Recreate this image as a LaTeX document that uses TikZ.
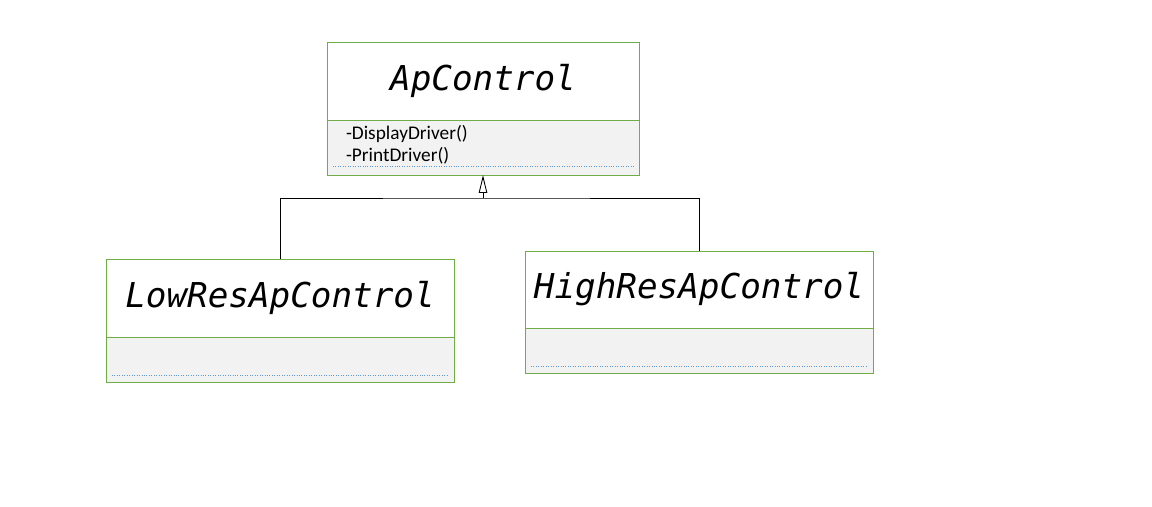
\documentclass[tikz,border=0pt]{standalone}
\usepackage{fontspec}
\setmainfont{Carlito}
\newfontfamily\classfont{DejaVu Sans Mono}
\usepackage{xcolor}
\usetikzlibrary{
  arrows.meta,
  positioning
}
\definecolor{umlgreen}{HTML}{70AD47}
\definecolor{umlgray} {HTML}{F2F2F2}
\definecolor{umlblue} {HTML}{5B9BD5}

\begin{document}
\begin{tikzpicture}[
  every node/.style={inner sep=0pt, outer sep=0pt},
  classname/.style={rectangle, draw=umlgreen, fill=white, line width=0.4pt,
              minimum width=6.96cm, minimum height=1.56cm, text centered,
              font=\classfont\itshape\fontsize{19.5}{22}\selectfont},
  attrs/.style={rectangle, draw=umlgreen, fill=umlgray, line width=0.4pt,
              minimum width=6.96cm, minimum height=0.9cm},
  sep/.style={umlblue, densely dotted, line width=0.4pt},
  arr/.style={-{Triangle[open, length=0.36cm, width=0.17cm]}, line width=0.5pt},
  link/.style={line width=0.5pt},
]
\useasboundingbox (0,0) rectangle (23.04,-10.14);

% parent class
\node[classname, minimum width=6.24cm](apc) at (9.66,-1.62) {ApControl};
\node[attrs, minimum width=6.24cm, minimum height=1.1cm, below=0pt of apc](apcattr) {};
\node[anchor=north west, align=left, font=\fontsize{11}{12.5}\selectfont]
  (apcops) at ([xshift=0.38cm, yshift=-0.1cm]apcattr.north west)
  {-DisplayDriver()\\-PrintDriver()};
\draw[sep] ([xshift=0.12cm, yshift=0.18cm]apcattr.south west)
        -- ([xshift=-0.1cm, yshift=0.18cm]apcattr.south east);

% subclasses
\node[classname](low) at (5.6,-5.96) {LowResApControl};
\node[attrs, below=0pt of low](lowattr) {};
\draw[sep] ([xshift=0.12cm, yshift=0.14cm]lowattr.south west)
        -- ([xshift=-0.1cm, yshift=0.14cm]lowattr.south east);

\node[classname, minimum height=1.54cm](high) at (13.98,-5.79) {HighResApControl};
\node[attrs, below=0pt of high](highattr) {};
\draw[sep] ([xshift=0.12cm, yshift=0.14cm]highattr.south west)
        -- ([xshift=-0.1cm, yshift=0.14cm]highattr.south east);

% inheritance
\coordinate (joint) at (9.66,-3.96);
\draw[link] (low.north) |- (joint) -| (high.north);
\draw[arr] (joint) -- (apcattr.south);
\end{tikzpicture}
\end{document}
